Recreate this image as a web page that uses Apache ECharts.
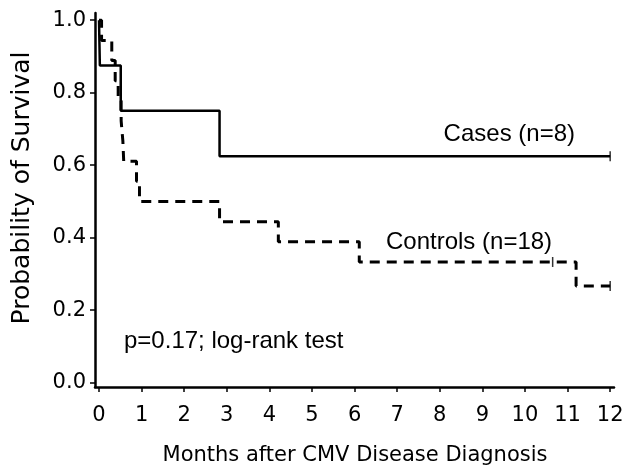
<!DOCTYPE html>
<html>
<head>
<meta charset="utf-8">
<script src="https://cdn.jsdelivr.net/npm/echarts@6/dist/echarts.min.js"></script>
<style>
html,body{margin:0;padding:0;background:#fff;}
#chart{width:623px;height:468px;}
</style>
</head>
<body>
<div id="chart"></div>
<script>
// Tick labels
const monthTicks = [0,1,2,3,4,5,6,7,8,9,10,11,12];
const survivalTicks = [0.0,0.2,0.4,0.6,0.8,1.0];

// Cases (n=8) Kaplan-Meier steps
const casesTime = [0, 0.02, 0.51, 2.83, 12];
const casesSurv = [1.0, 0.875, 0.75, 0.625, 0.625];
const casesCensorTime = [12];
const casesCensorSurv = [0.625];

// Controls (n=18) Kaplan-Meier steps
const controlsTime = [0, 0.06, 0.30, 0.38, 0.45, 0.52, 0.56, 0.58, 0.88, 0.95, 2.83, 4.21, 6.11, 11.2, 12];
const controlsSurv = [1.0, 0.944, 0.889, 0.833, 0.778, 0.722, 0.667, 0.611, 0.556, 0.5, 0.444, 0.389, 0.333, 0.267, 0.267];
const controlsCensorTime = [10.65, 12];
const controlsCensorSurv = [0.333, 0.267];

const zip = (a, b) => a.map((v, i) => [v, b[i]]);

const chart = echarts.init(document.getElementById('chart'), null, {renderer: 'canvas'});
const axisFont = 'DejaVu Sans';

chart.setOption({
  animation: false,
  backgroundColor: '#fff',
  grid: {left: 95, right: 9, top: 13, bottom: 81, containLabel: false, outerBoundsMode: 'none'},
  xAxis: {
    type: 'value', min: -0.094, max: 12.09,
    axisLine: {show: true, onZero: false, lineStyle: {color: '#000', width: 2.5}},
    axisTick: {show: true, length: 5, lineStyle: {color: '#000', width: 1.5}, customValues: monthTicks},
    axisLabel: {show: true, customValues: monthTicks, margin: 18, color: '#000', fontSize: 21, fontFamily: axisFont},
    splitLine: {show: false}
  },
  yAxis: {
    type: 'value', min: -0.012, max: 1.02,
    axisLine: {show: true, onZero: false, lineStyle: {color: '#000', width: 2.5}},
    axisTick: {show: true, length: 5, lineStyle: {color: '#000', width: 1.5}, customValues: survivalTicks},
    axisLabel: {show: true, customValues: survivalTicks, margin: 9, color: '#000', fontSize: 21, fontFamily: axisFont,
      formatter: v => v.toFixed(1)},
    splitLine: {show: false}
  },
  series: [
    {name: 'Cases (n=8)', type: 'line', step: 'end', showSymbol: false, data: zip(casesTime, casesSurv),
     lineStyle: {color: '#000', width: 2.5, type: 'solid'}, z: 3},
    {name: 'Controls (n=18)', type: 'line', step: 'end', showSymbol: false, data: zip(controlsTime, controlsSurv),
     lineStyle: {color: '#000', width: 3, type: [10, 7]}, z: 2},
    {type: 'scatter', symbol: 'rect', symbolSize: [1.5, 10], itemStyle: {color: '#000'},
     data: zip(casesCensorTime, casesCensorSurv).concat(zip(controlsCensorTime, controlsCensorSurv)), z: 4}
  ],
  graphic: [
    {type: 'text', x: 355, y: 456, style: {text: 'Months after CMV Disease Diagnosis', font: '21px "DejaVu Sans"', fill: '#000', align: 'center', verticalAlign: 'middle'}},
    {type: 'text', x: 22, y: 188, rotation: Math.PI / 2, style: {text: 'Probability of Survival', font: '25px "DejaVu Sans"', fill: '#000', align: 'center', verticalAlign: 'middle'}},
    {type: 'text', x: 575, y: 134, style: {text: 'Cases (n=8)', font: '24px "Liberation Sans"', fill: '#000', align: 'right', verticalAlign: 'middle'}},
    {type: 'text', x: 386, y: 242, style: {text: 'Controls (n=18)', font: '24px "Liberation Sans"', fill: '#000', align: 'left', verticalAlign: 'middle'}},
    {type: 'text', x: 124, y: 341, style: {text: 'p=0.17; log-rank test', font: '24px "Liberation Sans"', fill: '#000', align: 'left', verticalAlign: 'middle'}}
  ]
});
</script>
</body>
</html>
